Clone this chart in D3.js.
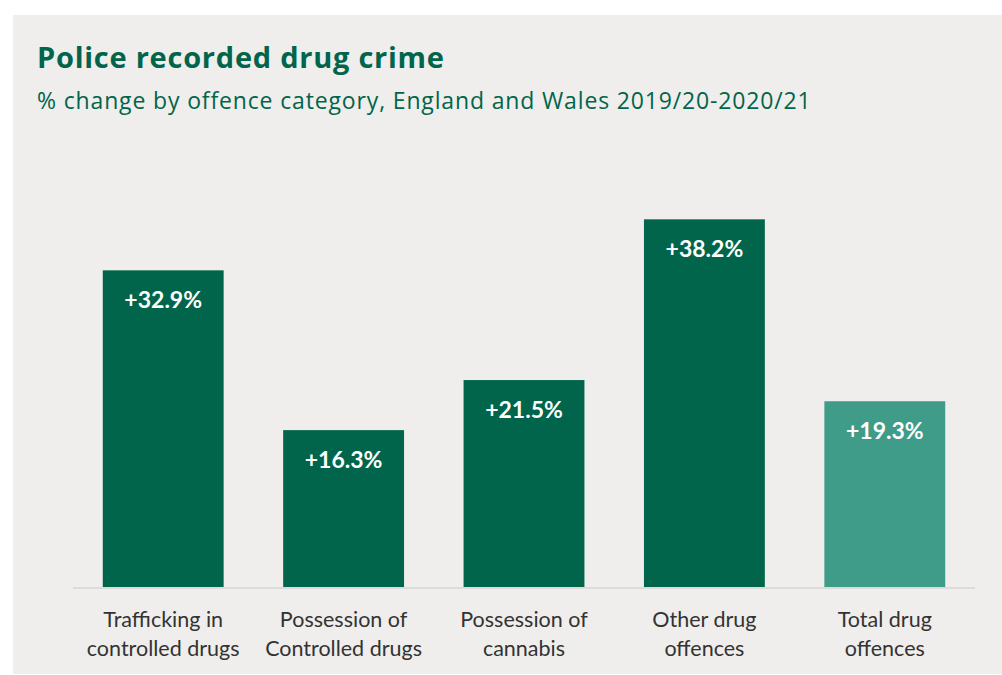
<!DOCTYPE html>
<html>
<head>
<meta charset="utf-8">
<script src="https://cdn.jsdelivr.net/npm/d3@7"></script>
<style>
  body { margin: 0; background: #fff; }
  svg { display: block; }
</style>
</head>
<body>
<script>
const WIDTH = 1002;
const HEIGHT = 675;

const categorias = [
  ["Trafficking in", "controlled drugs"],
  ["Possession of", "Controlled drugs"],
  ["Possession of", "cannabis"],
  ["Other drug", "offences"],
  ["Total drug", "offences"]
];
const valores = [32.9, 16.3, 21.5, 38.2, 19.3];
const colores = ["#00654a", "#00654a", "#00654a", "#00654a", "#3f9c88"];

const SVG = d3
  .select("body")
  .append("svg")
  .attr("width", WIDTH)
  .attr("height", HEIGHT);

// fondo gris
SVG.append("rect")
  .attr("x", 13)
  .attr("y", 15)
  .attr("width", WIDTH - 13)
  .attr("height", HEIGHT - 16)
  .attr("fill", "#efeeec");

SVG.append("text")
  .attr("x", 37)
  .attr("y", 68)
  .attr("fill", "#00654a")
  .attr("font-family", "Open Sans")
  .attr("font-weight", "bold")
  .attr("font-size", 29)
  .attr("letter-spacing", 0.75)
  .text("Police recorded drug crime");

SVG.append("text")
  .attr("x", 37)
  .attr("y", 109)
  .attr("fill", "#00654a")
  .attr("font-family", "Open Sans")
  .attr("font-size", 23)
  .attr("letter-spacing", 0.85)
  .text("% change by offence category, England and Wales 2019/20-2020/21");

const x = d3.scaleBand()
  .domain(d3.range(categorias.length))
  .range([73, 975])
  .paddingInner(0.33)
  .paddingOuter(0.165);

const y = d3.scaleLinear()
  .domain([0, 40])
  .range([587, 202]);

SVG.append("g")
  .selectAll("rect")
  .data(valores)
  .join("rect")
  .attr("x", (d, i) => x(i))
  .attr("y", (d) => y(d))
  .attr("width", x.bandwidth())
  .attr("height", (d) => y(0) - y(d))
  .attr("fill", (d, i) => colores[i]);

SVG.append("g")
  .selectAll("text")
  .data(valores)
  .join("text")
  .attr("x", (d, i) => x(i) + x.bandwidth() / 2)
  .attr("y", (d) => y(d) + 38)
  .attr("text-anchor", "middle")
  .attr("fill", "#fff")
  .attr("font-family", "Lato")
  .attr("font-weight", "bold")
  .attr("font-size", 23)
  .text((d) => "+" + d.toFixed(1) + "%");

// eje x
SVG.append("line")
  .attr("x1", 73)
  .attr("x2", 975)
  .attr("y1", y(0) + 1)
  .attr("y2", y(0) + 1)
  .attr("stroke", "#d6d6d6")
  .attr("stroke-width", 1.5);

const etiquetas = SVG.append("g")
  .selectAll("text")
  .data(categorias)
  .join("text")
  .attr("text-anchor", "middle")
  .attr("fill", "#333")
  .attr("font-family", "Lato")
  .attr("font-size", 21.5);

etiquetas.selectAll("tspan")
  .data((d, i) => d.map((linea) => ({ linea, i })))
  .join("tspan")
  .attr("x", (d) => x(d.i) + x.bandwidth() / 2)
  .attr("y", (d, j) => 627 + j * 29)
  .text((d) => d.linea);
</script>
</body>
</html>
